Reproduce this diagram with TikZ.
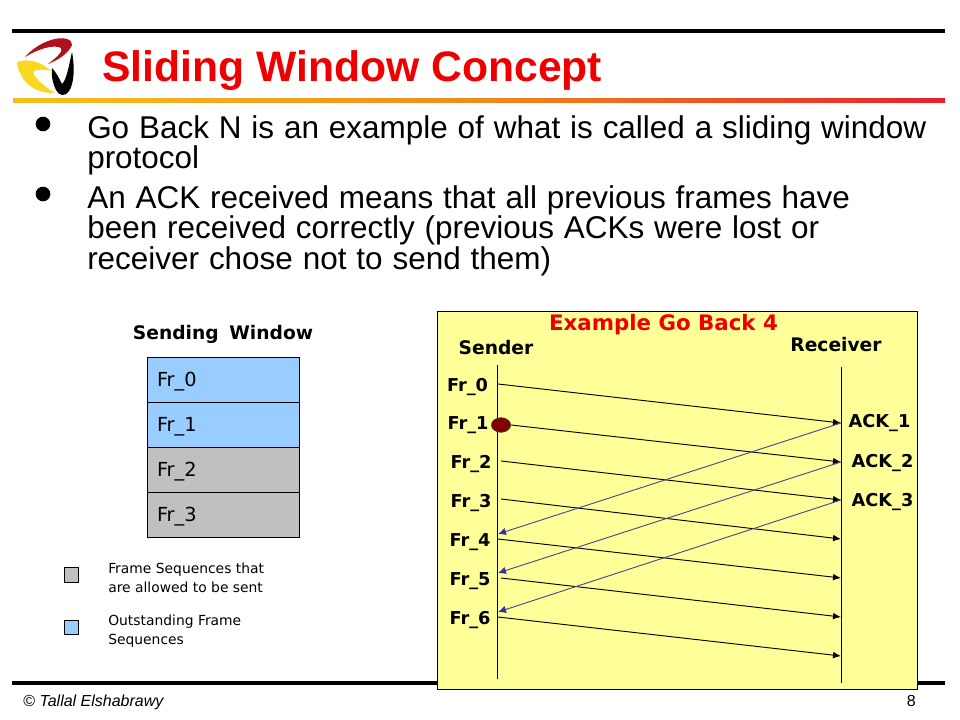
\documentclass[tikz,border=0pt]{standalone}
\usepackage{fontspec}
\setmainfont{Liberation Sans}
\newfontfamily\labelfont{DejaVu Sans}
\usepackage{tikz}
\usetikzlibrary{positioning,shapes.geometric,arrows.meta}
\definecolor{slidered}{HTML}{EE0000}
\definecolor{outblue}{HTML}{99CCFF}
\definecolor{allowgray}{HTML}{C0C0C0}
\definecolor{boxyellow}{HTML}{FFFF99}
\definecolor{ackblue}{HTML}{4A4A8C}
\definecolor{ackhead}{HTML}{333399}
\definecolor{rulegold}{HTML}{F3C11F}
\definecolor{ruleorange}{HTML}{F08A1D}
\definecolor{rulered}{HTML}{E8202A}
\definecolor{logored}{HTML}{B0101C}
\definecolor{logoyellow}{HTML}{F8D820}

\begin{document}
\begin{tikzpicture}[
        x=0.75pt, y=-0.75pt,
        title/.style={anchor=base west, inner sep=0pt, text=slidered, font=\fontsize{32}{36}\selectfont\bfseries},
        bodytext/.style={anchor=north west, inner sep=0pt, align=left, font={\fontsize{23.6}{23.1}\selectfont\spaceskip 7.4pt\relax}},
        bulletdot/.style={circle, fill=black, inner sep=0pt, minimum size=11pt},
        frame/.style={draw, line width=0.6pt, minimum width=114pt, minimum height=33.9pt, inner xsep=7.5pt, text width=99pt, text height=11pt, text depth=0.8pt, align=left, font=\labelfont\fontsize{14.5}{16}\selectfont},
        legend/.style={draw, line width=0.6pt, minimum size=11pt, inner sep=0pt},
        legendtext/.style={anchor=north west, inner sep=0pt, align=left, font=\labelfont\fontsize{10.4}{14.25}\selectfont},
        heading/.style={inner sep=0pt, text height=10.2pt, text depth=0pt, font=\labelfont\bfseries\fontsize{14}{16}\selectfont},
        framelabel/.style={inner sep=0pt, text height=9.7pt, text depth=0pt, font=\labelfont\bfseries\fontsize{13.3}{15}\selectfont},
        lifeline/.style={line width=0.7pt},
        sendarrow/.style={-{Latex[length=6pt,width=5pt]}, line width=0.7pt},
        ackarrow/.style={-{Latex[length=6pt,width=5.5pt,color=ackhead]}, line width=0.7pt, draw=ackblue}
    ]
        \useasboundingbox (0,0) rectangle (960,720);
        \fill[white] (0,0) rectangle (960,720);

        % Header
        \fill[black] (12,29) rectangle (945,33);
        \fill[left color=rulegold, right color=rulered, middle color=ruleorange] (13,99) rectangle (945,103);
        \fill[logored] (25,57) .. controls (38,42) and (58,36) .. (67,39) .. controls (71,40) and (72,43) .. (72,45) .. controls (68,54) and (58,60) .. (48,64) .. controls (56,58) and (64,51) .. (61,48) .. controls (54,44) and (38,49) .. (25,57) -- cycle;
        \fill[logoyellow] (17,62) .. controls (28,58) and (42,62) .. (51,71) .. controls (44,69) and (36,69) .. (33,72) .. controls (34,78) and (45,87) .. (55,93) .. controls (42,94) and (30,88) .. (24,80) .. controls (19,72) and (17,66) .. (17,62) -- cycle;
        \fill[black] (52,68) .. controls (56,72) and (60,80) .. (62,84) .. controls (67,80) and (70,60) .. (72,52) .. controls (75,68) and (74,84) .. (69,91) .. controls (65,97) and (59,96) .. (56,90) .. controls (53,84) and (51,76) .. (52,68) -- cycle;
        \node[title] (slidetitle) at (102,82) {Sliding Window Concept};

        % Bullets
        \node[bulletdot] (bulletone) at (43,124) {};
        \node[bulletdot] (bullettwo) at (43,194) {};
        \node[bodytext] (bodyone) at (87,115) {Go Back N is an example of what is called a sliding window\\protocol};
        \node[bodytext] (bodytwo) at (87,185) {An ACK received means that all previous frames have\\been received correctly (previous ACKs were lost or\\receiver chose not to send them)};

        % Footer
        \fill[black] (12,681) rectangle (945,685);
        \node[anchor=base west, inner sep=0pt, font=\fontsize{12}{14}\selectfont] (footname) at (23,706) {\textcopyright{} \textit{Tallal Elshabrawy}};
        \node[anchor=base east, inner sep=0pt, font=\fontsize{12}{14}\selectfont] (footpage) at (916,706) {8};

        % Sending window
        \node[heading, font={\labelfont\bfseries\fontsize{14}{16}\selectfont\spaceskip 8pt\relax}] (windowhead) at (223,333) {Sending Window};
        \node[frame, fill=outblue] (winzero) at (223,379.5) {Fr\_0};
        \node[frame, fill=outblue, below=-0.6pt of winzero] (winone) {Fr\_1};
        \node[frame, fill=allowgray, below=-0.6pt of winone] (wintwo) {Fr\_2};
        \node[frame, fill=allowgray, below=-0.6pt of wintwo] (winthree) {Fr\_3};

        % Legend
        \node[legend, fill=allowgray] (keygray) at (71.5,575) {};
        \node[legend, fill=outblue] (keyblue) at (71.5,627.5) {};
        \node[legendtext] (keygraytext) at (108,562.5) {Frame Sequences  that\\are allowed to be sent};
        \node[legendtext] (keybluetext) at (108,614.5) {Outstanding Frame\\Sequences};

        % Example box
        \node[draw, fill=boxyellow, line width=0.7pt, anchor=north west, minimum width=360pt, minimum height=283.5pt, inner sep=0pt] (examplebox) at (437,311) {};
        \node[inner sep=0pt, text height=11.6pt, text depth=0pt, text=slidered, font=\labelfont\bfseries\fontsize{16}{18}\selectfont] (exampletitle) at (663.5,323) {Example Go Back 4};
        \node[heading] (senderhead) at (496,348) {Sender};
        \node[heading] (receiverhead) at (836,345) {Receiver};

        % Lifelines
        \coordinate (sendertop) at (497.5,365);
        \coordinate (senderend) at (497.5,679);
        \coordinate (receivertop) at (841.5,367);
        \coordinate (receiverend) at (841.5,683);
        \draw[lifeline] (sendertop) -- (senderend);
        \draw[lifeline] (receivertop) -- (receiverend);

        % Frame labels
        \node[framelabel] (labelzero) at (467.5,385) {Fr\_0};
        \node[framelabel] (labelone) at (468,423.5) {Fr\_1};
        \node[framelabel] (labeltwo) at (471,462) {Fr\_2};
        \node[framelabel] (labelthree) at (471,501) {Fr\_3};
        \node[framelabel] (labelfour) at (470,540) {Fr\_4};
        \node[framelabel] (labelfive) at (470,579) {Fr\_5};
        \node[framelabel] (labelsix) at (470,618) {Fr\_6};
        \node[framelabel] (ackone) at (879.5,421) {ACK\_1};
        \node[framelabel] (acktwo) at (882.5,461) {ACK\_2};
        \node[framelabel] (ackthree) at (882.5,500) {ACK\_3};

        % Send ends
        \coordinate (sendzero) at (498,384);
        \coordinate (sendtwo) at (501,461);
        \coordinate (sendthree) at (501,499);
        \coordinate (sendfour) at (498,539);
        \coordinate (sendfive) at (501,578);
        \coordinate (sendsix) at (498,617);
        \node[draw=black!70, fill=red!50!black, line width=0.5pt, ellipse, minimum width=14.5pt, minimum height=11pt, inner sep=0pt] (lostframe) at (501,425) {};

        % Receive ends
        \coordinate (recvzero) at (841,423);
        \coordinate (recvone) at (841,462);
        \coordinate (recvtwo) at (841,500);
        \coordinate (recvthree) at (841,539);
        \coordinate (recvfour) at (841,578);
        \coordinate (recvfive) at (841,617);
        \coordinate (recvsix) at (841,656);

        % Ack ends
        \coordinate (ackendone) at (498,534);
        \coordinate (ackendtwo) at (498,573);
        \coordinate (ackendthree) at (498,612);

        % Frame arrows
        \draw[sendarrow] (sendzero) -- (recvzero);
        \draw[sendarrow] (lostframe.east) -- (recvone);
        \draw[sendarrow] (sendtwo) -- (recvtwo);
        \draw[sendarrow] (sendthree) -- (recvthree);
        \draw[sendarrow] (sendfour) -- (recvfour);
        \draw[sendarrow] (sendfive) -- (recvfive);
        \draw[sendarrow] (sendsix) -- (recvsix);

        % Ack arrows
        \draw[ackarrow] (recvzero) -- (ackendone);
        \draw[ackarrow] (recvone) -- (ackendtwo);
        \draw[ackarrow] (recvtwo) -- (ackendthree);
    \end{tikzpicture}
\end{document}
